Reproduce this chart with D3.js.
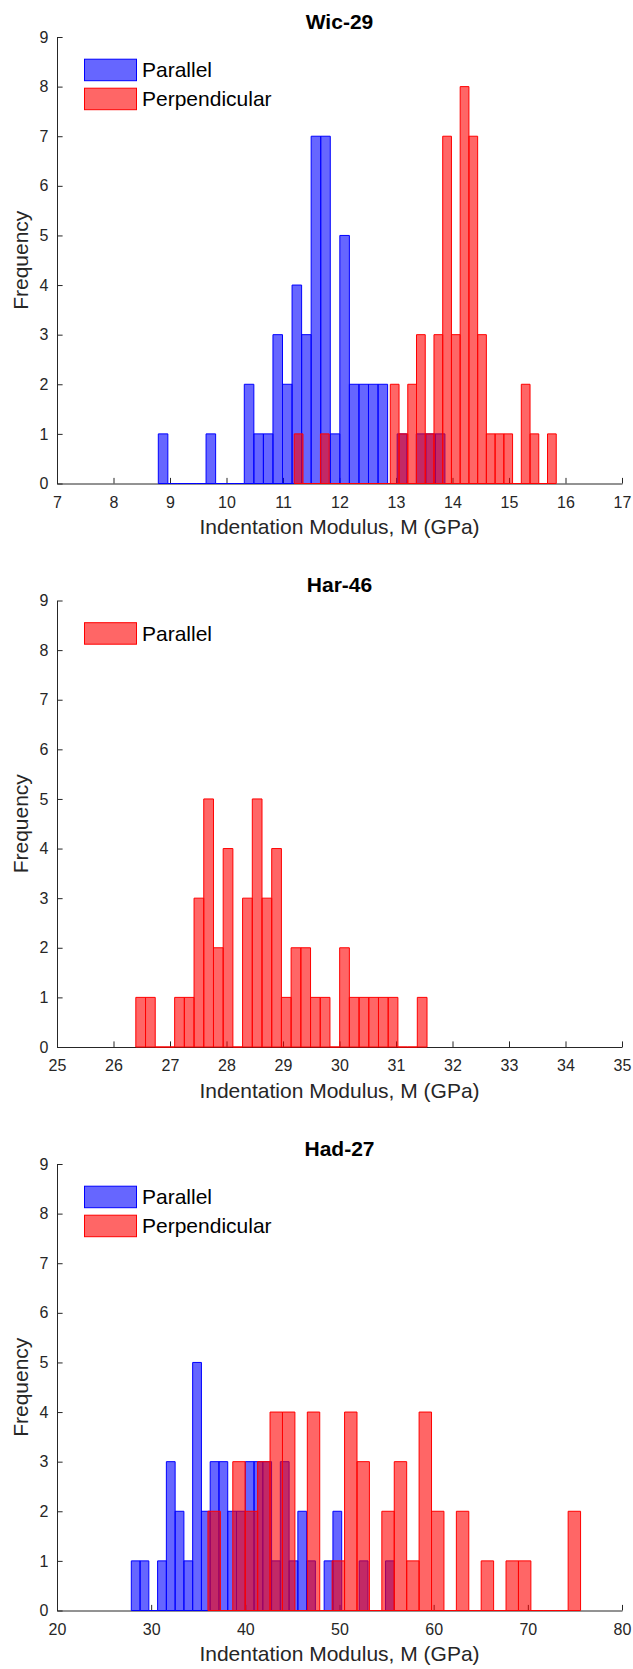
<!DOCTYPE html>
<html>
<head>
<meta charset="utf-8">
<script src="https://cdn.jsdelivr.net/npm/d3@7/dist/d3.min.js"></script>
<style>
    body { margin: 0; background: #fff; }
    svg { display: block; font-family: "Liberation Sans", Arial, Helvetica, sans-serif; }
</style>
</head>
<body>
<div id="chart"></div>
<script>
// Histogram bins: first bin edge, bin width, counts per bin
const wicParallelStart = 8.793, wicParallelWidth = 0.1691;
const wicParallelCounts = [1, 0, 0, 0, 0, 1, 0, 0, 0, 2, 1, 1, 3, 2, 4, 3, 7, 7, 1, 5, 2, 2, 2, 2, 0, 1, 0, 1, 1, 1];
const wicPerpStart = 11.199, wicPerpWidth = 0.15457;
const wicPerpCounts = [1, 0, 0, 1, 0, 0, 0, 0, 0, 0, 0, 2, 1, 2, 3, 1, 3, 7, 3, 8, 7, 3, 1, 1, 1, 0, 2, 1, 0, 1];

const harParallelStart = 26.395, harParallelWidth = 0.1718;
const harParallelCounts = [1, 1, 0, 0, 1, 1, 3, 5, 2, 4, 0, 3, 5, 3, 4, 1, 2, 2, 1, 1, 0, 2, 1, 1, 1, 1, 1, 0, 0, 1];

const hadParallelStart = 27.89, hadParallelWidth = 0.931;
const hadParallelCounts = [1, 1, 0, 1, 3, 2, 1, 5, 2, 3, 3, 2, 2, 3, 3, 3, 1, 3, 1, 2, 1, 0, 1, 2, 0, 0, 1, 0, 0, 1];
const hadPerpStart = 36.03, hadPerpWidth = 1.319;
const hadPerpCounts = [2, 0, 3, 2, 3, 4, 4, 0, 4, 0, 1, 4, 3, 0, 2, 3, 1, 4, 2, 0, 2, 0, 1, 0, 1, 1, 0, 0, 0, 2];

// Titles, axis ranges and tick labels
const panelTitles = ["Wic-29", "Har-46", "Had-27"];
const xDomains = [[7, 17], [25, 35], [20, 80]];
const xTicks = [
    [7, 8, 9, 10, 11, 12, 13, 14, 15, 16, 17],
    [25, 26, 27, 28, 29, 30, 31, 32, 33, 34, 35],
    [20, 30, 40, 50, 60, 70, 80],
];
const yTicks = [0, 1, 2, 3, 4, 5, 6, 7, 8, 9];
const xLabel = "Indentation Modulus, M (GPa)";
const yLabel = "Frequency";

const BLUE = "#0000ff";
const RED = "#ff0000";

// Series per panel (drawn in order, later ones on top)
const panels = [
    [
        { name: "Parallel", color: BLUE, start: wicParallelStart, width: wicParallelWidth, counts: wicParallelCounts },
        { name: "Perpendicular", color: RED, start: wicPerpStart, width: wicPerpWidth, counts: wicPerpCounts },
    ],
    [
        { name: "Parallel", color: RED, start: harParallelStart, width: harParallelWidth, counts: harParallelCounts },
    ],
    [
        { name: "Parallel", color: BLUE, start: hadParallelStart, width: hadParallelWidth, counts: hadParallelCounts },
        { name: "Perpendicular", color: RED, start: hadPerpStart, width: hadPerpWidth, counts: hadPerpCounts },
    ],
];

// Layout
const W = 633, H = 1669;
const plotLeft = 57, plotRight = 622;
const panelTops = [37, 600.5, 1164];
const plotHeight = 446.5;
const tickLen = 5.6;
const axisColor = "#262626";

const svg = d3.select("#chart")
    .append("svg")
    .attr("width", W)
    .attr("height", H);

panels.forEach((series, p) => {
    const top = panelTops[p];
    const bottom = top + plotHeight;

    const xScale = d3.scaleLinear().domain(xDomains[p]).range([plotLeft, plotRight]);
    const yScale = d3.scaleLinear().domain([0, 9]).range([bottom, top]);

    const g = svg.append("g");

    // Sumbu X (ticks point inward)
    const gx = g.append("g")
        .attr("transform", `translate(0,${bottom})`)
        .call(d3.axisBottom(xScale)
            .tickValues(xTicks[p])
            .tickFormat(d3.format("d"))
            .tickSizeInner(-tickLen)
            .tickSizeOuter(0)
            .tickPadding(13));

    // Sumbu Y
    const gy = g.append("g")
        .attr("transform", `translate(${plotLeft},0)`)
        .call(d3.axisLeft(yScale)
            .tickValues(yTicks)
            .tickFormat(d3.format("d"))
            .tickSizeInner(-tickLen)
            .tickSizeOuter(0)
            .tickPadding(8.5));

    [gx, gy].forEach((ax) => {
        ax.attr("font-family", null).attr("font-size", 16);
        ax.select(".domain").attr("stroke", axisColor);
        ax.selectAll(".tick line").attr("stroke", axisColor);
        ax.selectAll(".tick text").attr("fill", axisColor);
    });

    // Histogram bars, zero bins collapse to a line on the baseline
    series.forEach((s) => {
        g.append("g")
            .selectAll("path")
            .data(s.counts)
            .enter()
            .append("path")
            .attr("d", (c, i) => {
                const x0 = xScale(s.start + i * s.width);
                const x1 = xScale(s.start + (i + 1) * s.width);
                const y0 = yScale(0);
                const y1 = yScale(c);
                return `M${x0},${y0}V${y1}H${x1}V${y0}Z`;
            })
            .attr("fill", s.color)
            .attr("fill-opacity", 0.6)
            .attr("stroke", s.color)
            .attr("stroke-width", 1)
            .attr("stroke-linejoin", "miter");
    });

    // Judul
    g.append("text")
        .attr("x", (plotLeft + plotRight) / 2)
        .attr("y", top - 8.5)
        .attr("text-anchor", "middle")
        .style("font-size", "21px")
        .style("font-weight", "bold")
        .attr("fill", "#000")
        .text(panelTitles[p]);

    // Label sumbu X
    g.append("text")
        .attr("x", (plotLeft + plotRight) / 2)
        .attr("y", bottom + 50.5)
        .attr("text-anchor", "middle")
        .style("font-size", "21px")
        .attr("fill", axisColor)
        .text(xLabel);

    // Label sumbu Y
    g.append("text")
        .attr("transform", `translate(28,${(top + bottom) / 2}) rotate(-90)`)
        .attr("text-anchor", "middle")
        .style("font-size", "21px")
        .attr("fill", axisColor)
        .text(yLabel);

    // Legend
    const legend = g.append("g").attr("transform", `translate(84,${top + 21.7})`);
    series.forEach((s, i) => {
        const row = legend.append("g").attr("transform", `translate(0,${i * 29})`);
        row.append("rect")
            .attr("x", 0.5)
            .attr("y", 0.5)
            .attr("width", 52)
            .attr("height", 21.5)
            .attr("fill", s.color)
            .attr("fill-opacity", 0.6)
            .attr("stroke", s.color)
            .attr("stroke-width", 1);
        row.append("text")
            .attr("x", 58)
            .attr("y", 11 + 7.5)
            .style("font-size", "21px")
            .attr("fill", "#000")
            .text(s.name);
    });
});
</script>
</body>
</html>
